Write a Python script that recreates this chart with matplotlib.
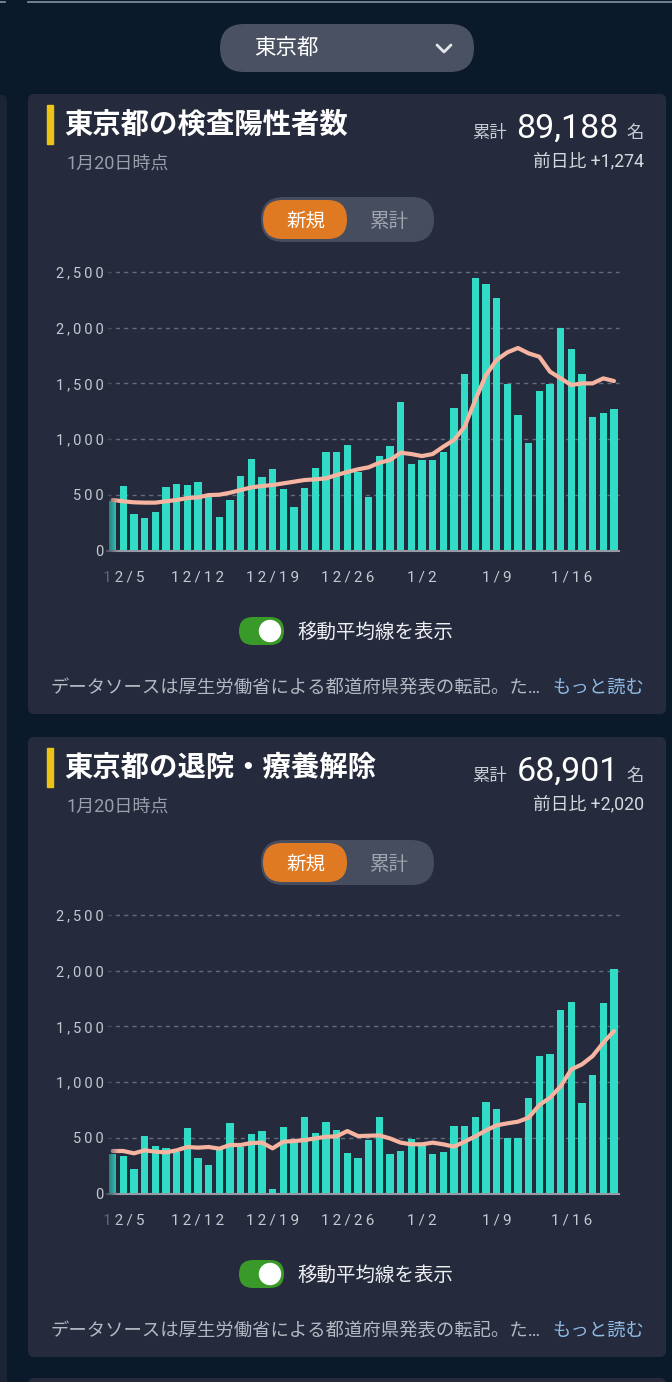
import numpy as np
import matplotlib
matplotlib.use("Agg")
import matplotlib.pyplot as plt
from matplotlib.patches import FancyBboxPatch, Circle

W, H = 672, 1382

# ---- data -------------------------------------------------------------------
days = ["12/4", "12/5", "12/6", "12/7", "12/8", "12/9", "12/10", "12/11", "12/12",
        "12/13", "12/14", "12/15", "12/16", "12/17", "12/18", "12/19", "12/20",
        "12/21", "12/22", "12/23", "12/24", "12/25", "12/26", "12/27", "12/28",
        "12/29", "12/30", "12/31", "1/1", "1/2", "1/3", "1/4", "1/5", "1/6", "1/7",
        "1/8", "1/9", "1/10", "1/11", "1/12", "1/13", "1/14", "1/15", "1/16",
        "1/17", "1/18", "1/19", "1/20"]
tick_days = ["12/5", "12/12", "12/19", "12/26", "1/2", "1/9", "1/16"]
y_ticks = [0, 500, 1000, 1500, 2000, 2500]

positives = [450, 580, 326, 296, 350, 568, 598, 592, 619, 478, 302, 455, 673, 819,
             661, 736, 550, 389, 559, 745, 885, 882, 945, 706, 481, 852, 942, 1334,
             781, 813, 813, 882, 1277, 1588, 2446, 2392, 2267, 1492, 1217, 969, 1429,
             1498, 2001, 1806, 1588, 1202, 1235, 1274]
positives_avg = [455, 443, 434, 431, 431, 443, 455, 472, 478, 499, 502, 520, 544, 568,
                 580, 589, 604, 619, 634, 640, 649, 679, 706, 730, 748, 789, 813, 879,
                 867, 849, 867, 933, 993, 1112, 1352, 1576, 1711, 1779, 1818, 1770,
                 1740, 1606, 1546, 1486, 1501, 1501, 1546, 1522]
discharges = [353, 335, 218, 514, 431, 407, 377, 589, 323, 254, 401, 634, 419, 538,
              565, 45, 598, 452, 685, 547, 643, 574, 365, 317, 484, 691, 353, 380, 490,
              434, 356, 377, 604, 604, 691, 819, 763, 499, 499, 858, 1238, 1250, 1645,
              1720, 816, 1068, 1708, 2020]
discharges_avg = [383, 383, 362, 389, 377, 371, 389, 419, 413, 419, 404, 437, 437, 455,
                  458, 407, 467, 472, 481, 496, 511, 514, 562, 517, 520, 523, 496, 458,
                  443, 443, 458, 443, 422, 467, 514, 568, 613, 631, 646, 682, 795, 861,
                  963, 1115, 1160, 1235, 1355, 1459]

cards = [
    dict(title="東京都の検査陽性者数", total="89,188", diff="前日比 +1,274",
         values=positives, avg=positives_avg),
    dict(title="東京都の退院・療養解除", total="68,901", diff="前日比 +2,020",
         values=discharges, avg=discharges_avg),
]

# ---- style ------------------------------------------------------------------
BG = "#0a1a2a"
CARD = "#252a3c"
PILL = "#4a5163"
TEAL = "#31dcc7"
SALMON = "#f7b5a1"
GRID = "#666c7c"
JP = ["Roboto", "Noto Sans CJK JP", "DejaVu Sans"]
NUM = ["Roboto", "DejaVu Sans"]
SP = "\u2009"

fig = plt.figure(figsize=(W / 100, H / 100), dpi=100, facecolor=BG)
bg = fig.add_axes([0, 0, 1, 1], zorder=0)
bg.set_xlim(0, W)
bg.set_ylim(H, 0)
bg.axis("off")


def rbox(x0, y0, x1, y1, r, color, z=1):
    bg.add_patch(FancyBboxPatch((x0 + r, y0 + r), x1 - x0 - 2 * r, y1 - y0 - 2 * r,
                                boxstyle=f"round,pad={r}", fc=color, ec="none", zorder=z))


def txt(x, y, s, size, color, ha="left", va="center", weight="normal", family=JP):
    bg.text(x, y, s, fontsize=size, color=color, ha=ha, va=va,
            fontweight=weight, family=family, zorder=5)


# page chrome
bg.plot([28, W], [1.5, 1.5], color="#8792a2", lw=1.2)
bg.plot([0, 5], [1.5, 1.5], color="#8792a2", lw=1.2)
rbox(-12, 95, 7, H + 20, 6, "#1c2334")
rbox(220, 24, 474, 72, 24, PILL, z=2)
txt(254, 48, "東京都", 15.5, "white")
bg.plot([437, 444, 451], [45, 52, 45], color="#e2e5ea", lw=2, solid_capstyle="round",
        solid_joinstyle="round", zorder=3)
rbox(28, 1378, 666, H + 30, 6, CARD)

for i, c in enumerate(cards):
    top = 94 + 643 * i
    rbox(28, top, 666, top + 620, 6, CARD)
    bg.add_patch(plt.Rectangle((47, top + 11), 6, 39, color="#ecc417", zorder=3))
    txt(64, top + 31, c["title"], 20.4, "white", weight="bold")
    txt(66, top + 70, "1月20日時点", 13, "#9a9fab")
    txt(507, top + 44, "累計", 12.5, "#c9ccd4", ha="right", va="baseline")
    txt(619, top + 44, c["total"], 24.5, "white", ha="right", va="baseline", family=NUM)
    txt(644, top + 44, "名", 12.5, "#c9ccd4", ha="right", va="baseline")
    txt(644, top + 67, c["diff"], 12.8, "#d6d9df", ha="right")

    # 新規 / 累計 switch
    rbox(261, top + 103, 434, top + 148, 22.5, "#464d5f", z=2)
    rbox(263, top + 106, 347, top + 145, 19.5, "#e07a22", z=3)
    txt(305.5, top + 128, "新規", 14, "white", ha="center")
    txt(389, top + 128, "累計", 14, "#a0a5b0", ha="center")

    # moving-average toggle
    rbox(239, top + 523, 284, top + 551, 14, "#3a9a29", z=2)
    bg.add_patch(Circle((270, top + 537), 10.5, color="white", zorder=3))
    txt(297, top + 538, "移動平均線を表示", 14, "#eef0f3")

    txt(51, top + 594, "データソースは厚生労働省による都道府県発表の転記。た…", 13.2, "#b3b8c2")
    txt(644, top + 594, "もっと読む", 13.2, "#8fbbe6", ha="right")

    # chart
    zero = top + 456.7
    ax = fig.add_axes([107.3 / W, (H - zero) / H, 512 / W, 278.7 / H], zorder=2)
    ax.set_facecolor("none")
    x = np.arange(len(c["values"]))
    ax.bar(x, c["values"], width=0.69, color=TEAL, zorder=2)
    ax.plot(x, c["avg"], color=SALMON, lw=3.0, zorder=3, solid_capstyle="round",
            solid_joinstyle="round")
    ax.set_xlim(-0.5, len(x) - 0.5)
    ax.set_ylim(0, 2500)
    for v in y_ticks[1:]:
        ax.axhline(v, color=GRID, lw=1, ls=(0, (3, 3)), zorder=1, clip_on=False)
    ax.axhline(0, color="#959aa5", lw=1.5, zorder=4, clip_on=False)
    for s in ax.spines.values():
        s.set_visible(False)
    ax.set_yticks(y_ticks, labels=[SP.join(f"{v:,}") for v in y_ticks])
    ax.set_xticks([days.index(d) for d in tick_days],
                  labels=[SP.join(d) for d in tick_days])
    ax.tick_params(length=0, colors="#c6c9d1")
    ax.tick_params(axis="y", pad=2.5, labelsize=10.5)
    ax.tick_params(axis="x", pad=14, labelsize=11)
    for lab in ax.get_xticklabels() + ax.get_yticklabels():
        lab.set_family(NUM)

    # left-edge fade of the scrollable chart
    fade = fig.add_axes([104 / W, (H - zero - 40) / H, 14 / W, 330 / H], zorder=6)
    grad = np.zeros((1, 64, 4))
    grad[..., :3] = matplotlib.colors.to_rgb(CARD)
    grad[..., 3] = np.linspace(0.8, 0.0, 64)
    fade.imshow(grad, aspect="auto", extent=[0, 1, 0, 1])
    fade.axis("off")

fig.savefig("out.png", dpi=100, facecolor=BG)
